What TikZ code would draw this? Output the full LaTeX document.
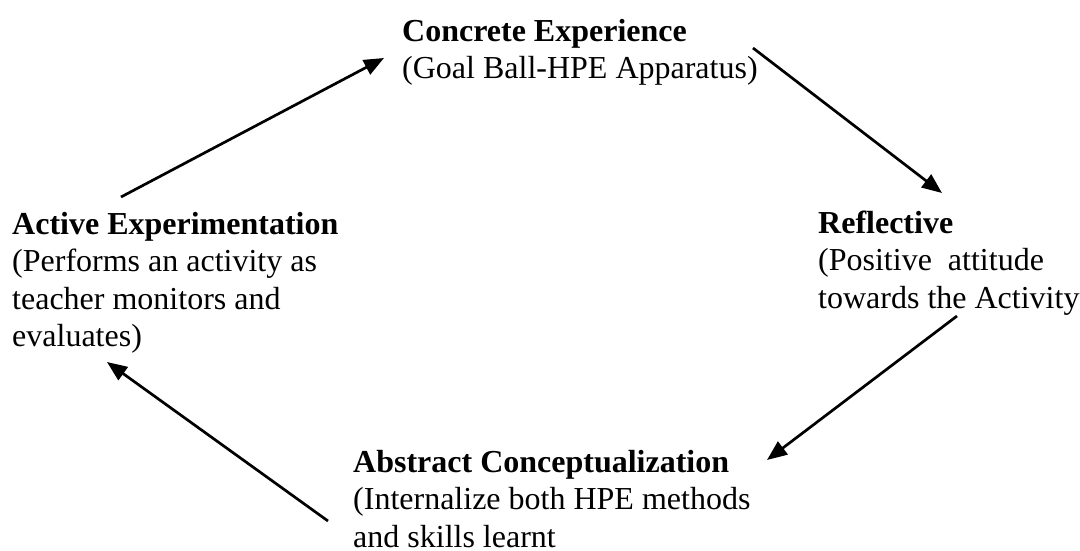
\documentclass[tikz,border=0pt]{standalone}
\usepackage{fontspec}
\setmainfont{Liberation Serif}
\usetikzlibrary{arrows.meta}
\begin{document}
\begin{tikzpicture}[x=1pt,y=-1pt,
  lbl/.style={anchor=base west,align=left,inner sep=0pt,font=\fontsize{32}{37.5}\selectfont},
  cyc/.style={line width=2.7pt,-{Triangle[length=20pt,width=16pt]}}]
\useasboundingbox (0,0) rectangle (1080,550);
% base anchor = baseline of the last line
\node[lbl] (ce) at (402,78.5) {\textbf{Concrete Experience}\\(Goal Ball-HPE Apparatus)};
\node[lbl] (ae) at (12,346.5) {\textbf{Active Experimentation}\\(Performs an activity as\\teacher monitors and\\evaluates)};
\node[lbl] (rf) at (818,308) {\textbf{Reflective}\\(Positive\ \ attitude\\towards the Activity};
\node[lbl] (ac) at (353,547) {\textbf{Abstract Conceptualization}\\(Internalize both HPE methods\\and skills learnt};
\coordinate (a1s) at (121,197);
\coordinate (a1e) at (384,58);
\coordinate (a2s) at (753,48);
\coordinate (a2e) at (942,193);
\coordinate (a3s) at (957,316);
\coordinate (a3e) at (767,460);
\coordinate (a4s) at (328,521);
\coordinate (a4e) at (107,362);
\draw[cyc] (a1s) -- (a1e);
\draw[cyc] (a2s) -- (a2e);
\draw[cyc] (a3s) -- (a3e);
\draw[cyc] (a4s) -- (a4e);
\end{tikzpicture}
\end{document}
